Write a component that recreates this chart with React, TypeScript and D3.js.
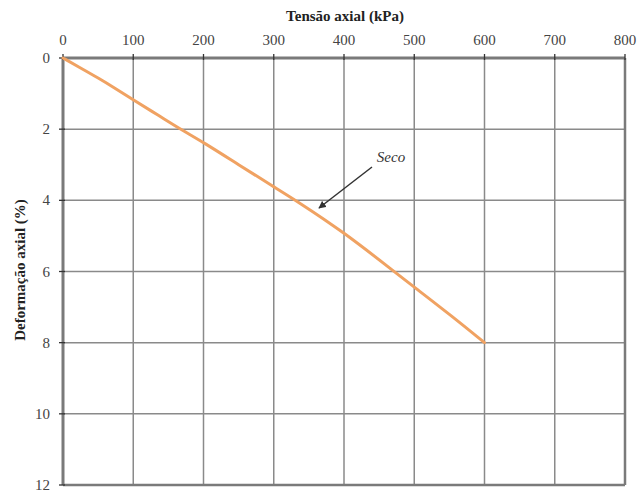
import React from "react";
import * as d3 from "d3";

// Axial stress (kPa) vs axial strain (%) for the dry sample
const stressKPa = [0, 25, 50, 75, 100, 135, 167, 200, 250, 300, 333, 400, 470, 500, 550, 600];
const strainPct = [0, 0.28, 0.56, 0.86, 1.18, 1.6, 2.0, 2.37, 3.0, 3.62, 4.02, 4.9, 5.98, 6.44, 7.2, 8.0];
const xTicks = [0, 100, 200, 300, 400, 500, 600, 700, 800];
const yTicks = [0, 2, 4, 6, 8, 10, 12];
const seriesLabel = "Seco";

const W = 637;
const H = 491;
const left = 63;
const right = 625;
const top = 58;
const bottom = 485;

const serif = { fontFamily: "'Liberation Serif', 'DejaVu Serif', serif" };

export default function App() {
  const x = d3.scaleLinear().domain([0, 800]).range([left, right]);
  const y = d3.scaleLinear().domain([0, 12]).range([top, bottom]);
  const pts: [number, number][] = stressKPa.map((s, i) => [s, strainPct[i]]);
  const line = d3
    .line<[number, number]>()
    .x((d) => x(d[0]))
    .y((d) => y(d[1]))
    .curve(d3.curveBasis);

  const grid = "#8a8a8a";
  const axis = "#7a7a7a";

  return (
    <svg
      width={W}
      height={H}
      style={{ position: "absolute", left: 0, top: 0, background: "#fff" }}
    >
      <defs>
        <marker id="arrowHead" viewBox="0 0 10 10" refX="9" refY="5" markerWidth="5" markerHeight="5" orient="auto">
          <path d="M0,0 L10,5 L0,10 z" fill="#333" />
        </marker>
      </defs>

      {/* grid */}
      {xTicks.slice(1, -1).map((t) => (
        <line key={"gx" + t} x1={x(t)} x2={x(t)} y1={top} y2={bottom} stroke={grid} strokeWidth={1.5} />
      ))}
      {yTicks.slice(1, -1).map((t) => (
        <line key={"gy" + t} x1={left} x2={right} y1={y(t)} y2={y(t)} stroke={grid} strokeWidth={1.5} />
      ))}

      {/* frame */}
      <line x1={left} x2={right} y1={bottom} y2={bottom} stroke={axis} strokeWidth={2.5} />
      <line x1={right} x2={right} y1={top} y2={bottom} stroke={axis} strokeWidth={2.5} />
      <line x1={left} x2={right} y1={top} y2={top} stroke={axis} strokeWidth={3} />
      <line x1={left} x2={left} y1={top} y2={bottom} stroke={axis} strokeWidth={3} />

      {/* tick marks */}
      {xTicks.map((t) => (
        <line key={"tx" + t} x1={x(t)} x2={x(t)} y1={top - 4} y2={top + 2} stroke="#333" strokeWidth={1.3} />
      ))}
      {yTicks.map((t) => (
        <line key={"ty" + t} x1={left - 4} x2={left + 2} y1={y(t)} y2={y(t)} stroke="#333" strokeWidth={1.3} />
      ))}

      {/* tick labels */}
      {xTicks.map((t) => (
        <text key={"lx" + t} x={x(t)} y={45} textAnchor="middle" fontSize={15} fill="#444" style={serif}>
          {t}
        </text>
      ))}
      {yTicks.map((t) => (
        <text key={"ly" + t} x={50} y={y(t) + 5} textAnchor="end" fontSize={15} fill="#444" style={serif}>
          {t}
        </text>
      ))}

      {/* axis titles */}
      <text x={345} y={21} textAnchor="middle" fontSize={15} fontWeight="bold" fill="#222" style={serif}>
        Tensão axial (kPa)
      </text>
      <text
        transform={`translate(25, 270) rotate(-90)`}
        textAnchor="middle"
        fontSize={15}
        fontWeight="bold"
        fill="#222"
        style={serif}
      >
        Deformação axial (%)
      </text>

      {/* curve */}
      <path d={line(pts) ?? ""} fill="none" stroke="#f0a262" strokeWidth={3} strokeLinecap="round" />

      {/* annotation */}
      <line x1={372} y1={167} x2={319} y2={208} stroke="#333" strokeWidth={1.5} markerEnd="url(#arrowHead)" />
      <text x={391} y={162} textAnchor="middle" fontSize={15} fontStyle="italic" fill="#333" style={serif}>
        {seriesLabel}
      </text>
    </svg>
  );
}
